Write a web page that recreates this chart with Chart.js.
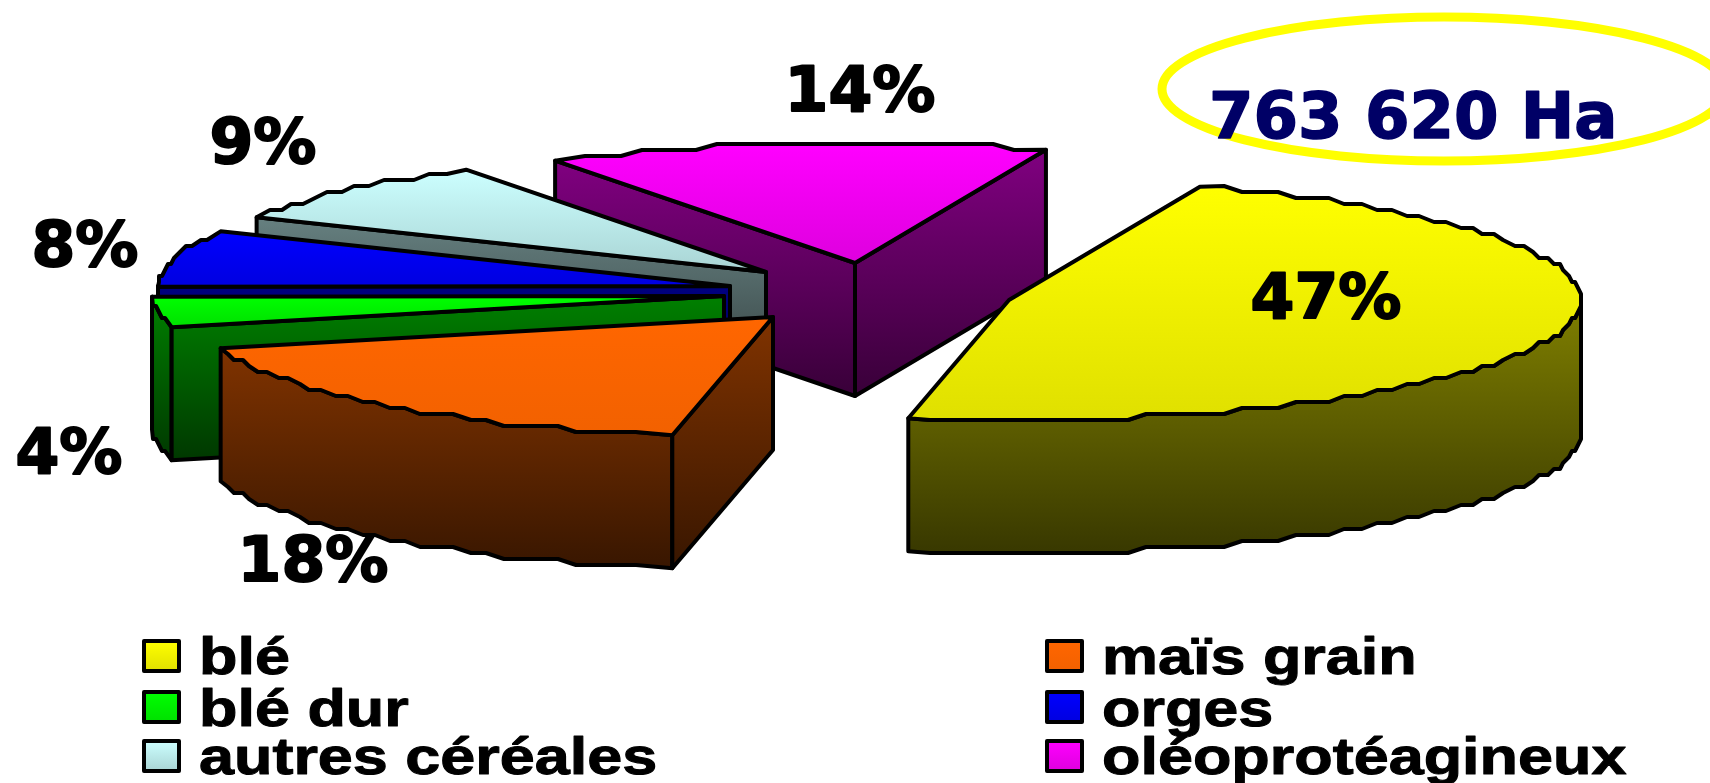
<!DOCTYPE html>
<html lang="fr">
<head>
<meta charset="utf-8">
<title>Assolement</title>
<style>
html,body{margin:0;padding:0;background:#fff;overflow:hidden}
canvas{display:block}
</style>
<script src="https://cdn.jsdelivr.net/npm/chart.js@4/dist/chart.umd.min.js"></script>
</head>
<body>
<canvas id="c" width="1710" height="783"></canvas>
<script>
// --- data ---
const categories = ["blé", "maïs grain", "blé dur", "orges", "autres céréales", "oléoprotéagineux"];
const shares = [47.4, 18.0, 4.1, 7.6, 8.7, 14.2];
const totalLabel = "763 620 Ha";

// --- styles and layout (not data) ---
const sliceRgb = [[255,255,0],[255,102,0],[0,255,0],[0,0,255],[204,255,255],[255,0,255]];
const topFade = [0.88,0.95,0.88,0.88,0.83,0.87];
const sliceShift = [[154,-91.5],[-82,-74.5],[-131,-95.5],[-125,-105.5],[-89,-119.5],[0,-128.5]];
const drawOrder = [5,4,3,2,1,0];
const percentPos = [[1326,318],[313,581],[69,473],[85,266],[263,163],[860,111]];
const legendCols = [[144,199],[1047,1102]];
const legendRows = [[641,674],[692,726],[741,774]];
const SQUASH = 0.21, DEPTH = 133, GRID_X = 3, GRID_Y = 6, STEP = 2 * Math.PI / 180;

const rgb = (c, f) => `rgb(${Math.round(c[0]*f)},${Math.round(c[1]*f)},${Math.round(c[2]*f)})`;

function arcPoints(x, y, rx, ry, a0, a1) {
  const pts = [[x + rx*Math.cos(a0), y + ry*Math.sin(a0)]];
  const first = Math.ceil(a0 / STEP) + 1, last = Math.floor(a1 / STEP) - 1;
  for (let k = first; k <= last; k++) {
    const a = k * STEP;
    pts.push([
      Math.round((x + rx*Math.cos(a)) / GRID_X) * GRID_X,
      Math.round((y + ry*Math.sin(a)) / GRID_Y) * GRID_Y
    ]);
  }
  pts.push([x + rx*Math.cos(a1), y + ry*Math.sin(a1)]);
  return pts;
}
function fillStroke(ctx, pts, c, fTop, fBottom) {
  const ys = pts.map(p => p[1]);
  const g = ctx.createLinearGradient(0, Math.min(...ys), 0, Math.max(...ys));
  g.addColorStop(0, rgb(c, fTop));
  g.addColorStop(1, rgb(c, fBottom));
  ctx.beginPath();
  pts.forEach((p, i) => i ? ctx.lineTo(p[0], p[1]) : ctx.moveTo(p[0], p[1]));
  ctx.closePath();
  ctx.fillStyle = g;
  ctx.fill();
  ctx.stroke();
}
function drawSlice(ctx, arc, i) {
  const {x, y, startAngle: s, endAngle: e, outerRadius: rx} = arc.getProps(['x','y','startAngle','endAngle','outerRadius'], true);
  const ax = x + sliceShift[i][0], ay = y + sliceShift[i][1], ry = rx * SQUASH, c = sliceRgb[i];
  const wallTop = 0.5, wallBottom = 0.22;
  ctx.strokeStyle = '#000';
  ctx.lineWidth = 4;
  ctx.lineJoin = 'round';
  // outer wall: only the part of the rim that faces the viewer
  for (const base of [-2*Math.PI, 0, 2*Math.PI]) {
    const a0 = Math.max(s, base), a1 = Math.min(e, base + Math.PI);
    if (a1 > a0) {
      const rim = arcPoints(ax, ay, rx, ry, a0, a1);
      const low = rim.slice().reverse().map(p => [p[0], p[1] + DEPTH]);
      fillStroke(ctx, rim.concat(low), c, wallTop, wallBottom);
    }
  }
  // cut walls
  const cut = a => {
    const px = ax + rx*Math.cos(a), py = ay + ry*Math.sin(a);
    fillStroke(ctx, [[ax,ay],[px,py],[px,py+DEPTH],[ax,ay+DEPTH]], c, wallTop, wallBottom);
  };
  if (Math.sin(s - Math.PI/2) > 0) cut(s);
  if (Math.sin(e + Math.PI/2) > 0) cut(e);
  // top face
  fillStroke(ctx, [[ax,ay]].concat(arcPoints(ax, ay, rx, ry, s, e)), c, 1, topFade[i]);
}

const pie3d = {
  id: 'pie3d',
  beforeDatasetDraw(chart, args) {
    const ctx = chart.ctx, arcs = args.meta.data;
    drawOrder.forEach(i => drawSlice(ctx, arcs[i], i));
    return false;
  },
  afterDatasetsDraw(chart) {
    const ctx = chart.ctx;
    ctx.save();
    ctx.lineJoin = 'round';
    // total, in its ring
    ctx.strokeStyle = '#ffff00';
    ctx.lineWidth = 9;
    ctx.beginPath();
    ctx.ellipse(1444, 89, 282, 72, 0, 0, 2*Math.PI);
    ctx.stroke();
    ctx.fillStyle = '#000066';
    ctx.strokeStyle = '#000066';
    ctx.lineWidth = 1.5;
    ctx.font = 'bold 64px "DejaVu Sans"';
    ctx.textAlign = 'left';
    ctx.textBaseline = 'alphabetic';
    ctx.fillText(totalLabel, 1209, 138);
    ctx.strokeText(totalLabel, 1209, 138);
    // percentages
    ctx.fillStyle = '#000';
    ctx.strokeStyle = '#000';
    ctx.lineWidth = 2;
    ctx.font = 'bold 63px "DejaVu Sans"';
    ctx.textAlign = 'center';
    shares.forEach((v, i) => {
      const t = Math.round(v) + '%';
      ctx.fillText(t, percentPos[i][0], percentPos[i][1]);
      ctx.strokeText(t, percentPos[i][0], percentPos[i][1]);
    });
    // legend: two columns, filled row by row
    ctx.textAlign = 'left';
    categories.forEach((name, i) => {
      const col = legendCols[i % 2], row = legendRows[Math.floor(i / 2)];
      const g = ctx.createLinearGradient(0, row[0], 0, row[0] + 30);
      g.addColorStop(0, rgb(sliceRgb[i], 1));
      g.addColorStop(1, rgb(sliceRgb[i], topFade[i]));
      ctx.fillStyle = g;
      ctx.strokeStyle = '#000';
      ctx.lineWidth = 4;
      ctx.fillRect(col[0], row[0], 35, 30);
      ctx.strokeRect(col[0], row[0], 35, 30);
      ctx.save();
      ctx.translate(col[1], row[1]);
      ctx.scale(1.21, 1);
      ctx.fillStyle = '#000';
      ctx.strokeStyle = '#000';
      ctx.lineWidth = 1;
      ctx.font = 'bold 52px "Liberation Sans"';
      ctx.fillText(name, 0, 0);
      ctx.strokeText(name, 0, 0);
      ctx.restore();
    });
    ctx.restore();
  }
};

new Chart(document.getElementById('c'), {
  type: 'pie',
  data: {
    labels: categories,
    datasets: [{ data: shares, backgroundColor: sliceRgb.map(c => rgb(c, 1)) }]
  },
  options: {
    responsive: false,
    animation: false,
    devicePixelRatio: 1,
    rotation: 19.5,
    radius: 572,
    layout: { padding: 0 },
    plugins: { legend: { display: false }, tooltip: { enabled: false } }
  },
  plugins: [pie3d]
});
</script>
</body>
</html>
